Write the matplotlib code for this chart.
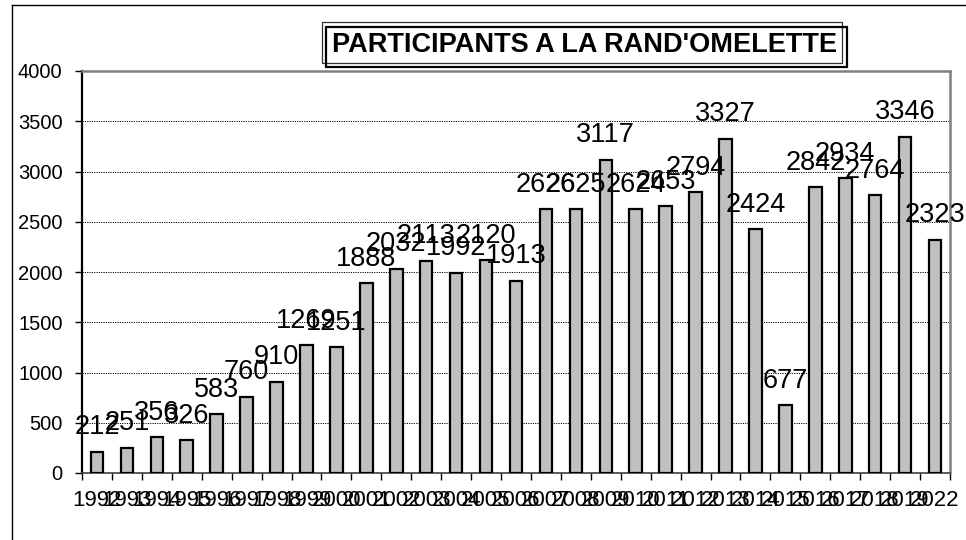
import matplotlib
matplotlib.use("Agg")
import matplotlib.pyplot as plt
from matplotlib.patches import Rectangle
from matplotlib.lines import Line2D
import numpy as np

years = ['1992', '1993', '1994', '1995', '1996', '1997', '1998', '1999', '2000',
         '2001', '2002', '2003', '2004', '2005', '2006', '2007', '2008', '2009',
         '2010', '2011', '2012', '2013', '2014', '2015', '2016', '2017', '2018',
         '2019', '2022']
participants = [212, 251, 356, 326, 583, 760, 910, 1269, 1251, 1888, 2032, 2113,
                1992, 2120, 1913, 2626, 2625, 3117, 2624, 2653, 2794, 3327, 2424,
                677, 2842, 2934, 2764, 3346, 2323]
yticks = [0, 500, 1000, 1500, 2000, 2500, 3000, 3500, 4000]
title = "PARTICIPANTS A LA RAND'OMELETTE"

plt.rcParams['font.family'] = ['Liberation Sans', 'DejaVu Sans']

W, H = 966, 540
fig = plt.figure(figsize=(W / 100, H / 100), dpi=100)
fig.patch.set_facecolor('white')

# outer frame (left & top visible)
fig.add_artist(Line2D([12 / W, 12 / W], [0, 1 - 5 / H], transform=fig.transFigure,
                      color='black', lw=1.0))
fig.add_artist(Line2D([12 / W, 1], [1 - 5 / H, 1 - 5 / H], transform=fig.transFigure,
                      color='black', lw=1.0))

ax = fig.add_axes([82 / W, 1 - 473 / H, (950 - 82) / W, (473 - 71) / H])
x = np.arange(len(years))
ax.bar(x, participants, width=0.42, color='#C0C0C0', edgecolor='black',
       linewidth=1.6, zorder=3)

ax.set_xlim(-0.5, len(years) - 0.5)
ax.set_ylim(0, 4000)
ax.set_yticks(yticks)
ax.set_yticklabels([str(v) for v in yticks], fontsize=14.5)
for v in yticks[1:-1]:
    ax.axhline(v, color='black', lw=0.7, ls=(0, (1.2, 1.2)), zorder=1)

ax.set_xticks(x)
ax.set_xticklabels(years, fontsize=16,
                   fontfamily=['Liberation Sans Narrow', 'Liberation Sans', 'DejaVu Sans'])
ax.set_xticks(np.arange(len(years) + 1) - 0.5, minor=True)
ax.tick_params(axis='x', which='major', length=0, pad=12)
ax.tick_params(axis='x', which='minor', length=5, width=1, direction='out', color='black')
ax.tick_params(axis='y', length=5, width=1, direction='out', pad=9, color='black')

for side in ['top', 'right']:
    ax.spines[side].set_color('#808080')
    ax.spines[side].set_linewidth(1.8)
ax.spines['left'].set_color('black')
ax.spines['left'].set_linewidth(1.6)
ax.spines['bottom'].set_color('#404040')
ax.spines['bottom'].set_linewidth(1.2)

for xi, v in zip(x, participants):
    ax.annotate(str(v), (xi, v), xytext=(0, 12.5), textcoords='offset points',
                ha='center', va='baseline', fontsize=19.5, zorder=5,
                annotation_clip=False)

# title box with double border
fig.add_artist(Rectangle((322 / W, 1 - 63 / H), (842 - 322) / W, (63 - 22) / H,
                         transform=fig.transFigure, fill=False, ec='#303030', lw=0.9))
fig.add_artist(Rectangle((326 / W, 1 - 67 / H), (847 - 326) / W, (67 - 27) / H,
                         transform=fig.transFigure, fill=False, ec='black', lw=1.6))
fig.text(585 / W, 1 - 45 / H, title, ha='center', va='center', fontsize=19.5,
         fontweight='bold')

fig.savefig('out.png', dpi=100, facecolor='white')
